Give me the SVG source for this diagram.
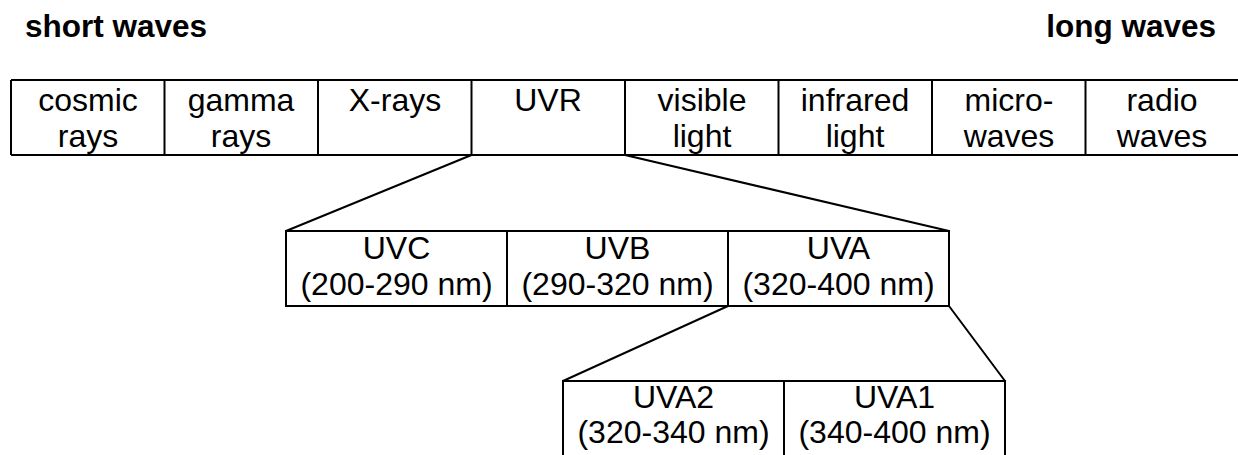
<svg xmlns="http://www.w3.org/2000/svg" width="1238" height="455" viewBox="0 0 1238 455">
<style>
.t{font-family:"Liberation Sans",Arial,sans-serif;font-size:32px;fill:#000;text-anchor:middle}
.h{font-family:"Liberation Sans",Arial,sans-serif;font-size:31.5px;font-weight:bold;fill:#000}
.b{fill:none;stroke:#000;stroke-width:2}
</style>
<rect width="1238" height="455" fill="#fff"/>
<text class="h" x="25" y="37">short waves</text>
<text class="h" x="1216" y="37" text-anchor="end">long waves</text>
<g id="spectrum">
<path class="b" d="M11,80 H1240 M11,155 H1240 M11,80 V155 M164.5,80 V155 M318,80 V155 M471.5,80 V155 M625,80 V155 M778.5,80 V155 M932,80 V155 M1085.5,80 V155"/>
</g>
<g id="cosmic"><text class="t" x="88" y="111">cosmic</text><text class="t" x="88" y="147">rays</text></g>
<g id="gamma"><text class="t" x="241" y="111">gamma</text><text class="t" x="241" y="147">rays</text></g>
<g id="xrays"><text class="t" x="395" y="111">X-rays</text></g>
<g id="uvr"><text class="t" x="548" y="111">UVR</text></g>
<g id="visible"><text class="t" x="702" y="111">visible</text><text class="t" x="702" y="147">light</text></g>
<g id="infrared"><text class="t" x="855" y="111">infrared</text><text class="t" x="855" y="147">light</text></g>
<g id="micro"><text class="t" x="1009" y="111">micro-</text><text class="t" x="1009" y="147">waves</text></g>
<g id="radio"><text class="t" x="1162" y="111">radio</text><text class="t" x="1162" y="147">waves</text></g>
<g id="uv-table">
<rect class="b" x="286" y="231" width="663" height="75"/>
<path class="b" d="M507,231 V306 M728,231 V306"/>
</g>
<g id="uvc"><text class="t" x="396.5" y="259">UVC</text><text class="t" x="396.5" y="295">(200-290 nm)</text></g>
<g id="uvb"><text class="t" x="617.5" y="259">UVB</text><text class="t" x="617.5" y="295">(290-320 nm)</text></g>
<g id="uva"><text class="t" x="838.5" y="259">UVA</text><text class="t" x="838.5" y="295">(320-400 nm)</text></g>
<g id="uva-table">
<path class="b" d="M563,460 V381 H1005 V460 M784,381 V460"/>
</g>
<g id="uva2"><text class="t" x="673.5" y="408">UVA2</text><text class="t" x="673.5" y="443">(320-340 nm)</text></g>
<g id="uva1"><text class="t" x="894.5" y="408">UVA1</text><text class="t" x="894.5" y="443">(340-400 nm)</text></g>
<g id="connectors">
<path class="b" d="M471.5,155 L286,231 M625,155 L949,231 M728,306 L563,381 M949,306 L1005,381"/>
</g>
</svg>
